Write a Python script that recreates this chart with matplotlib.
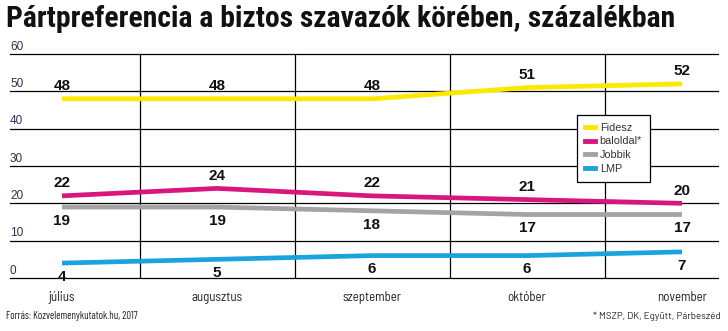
"""
Pártpreferencia a biztos szavazók körében - line chart recreation
"""

import matplotlib.pyplot as plt
from matplotlib.lines import Line2D

months = ['július', 'augusztus', 'szeptember', 'október', 'november']
fidesz = [48, 48, 48, 51, 52]
baloldal = [22, 24, 22, 21, 20]
jobbik = [19, 19, 18, 17, 17]
lmp = [4, 5, 6, 6, 7]
y_ticks = [0, 10, 20, 30, 40, 50, 60]

COLORS = {
    'fidesz': '#FFE800',
    'baloldal': '#D8177E',
    'jobbik': '#A3A3A3',
    'lmp': '#1AA3DC',
    'text': '#222222',
}
TITLE_FONT = ['Roboto Condensed', 'DejaVu Sans']
SMALL_FONT = ['Barlow Semi Condensed', 'DejaVu Sans']
FOOT_FONT = ['Barlow Condensed', 'DejaVu Sans']
NOTE_FONT = ['Barlow', 'DejaVu Sans']
LABEL_FONT = ['Liberation Sans', 'DejaVu Sans']

W, H = 728, 331
fig = plt.figure(figsize=(W / 100, H / 100), dpi=100, facecolor='white')

# plot area in pixels: x 10..718, y 54 (=60) .. 278 (=0)
ax = fig.add_axes([10 / W, (H - 278) / H, 708 / W, (278 - 54) / H])
x0 = (10 - 62) / 155
x1 = (718 - 62) / 155
ax.set_xlim(x0, x1)
ax.set_ylim(0, 60)
ax.axis('off')

# grid
for v in y_ticks:
    ax.axhline(v, color='black', lw=0.9, zorder=1, clip_on=False)
    ax.annotate(str(v), (x0, v), xytext=(0, 1), textcoords='offset points',
                ha='left', va='bottom', fontsize=8.5, color='#2b3050',
                family=LABEL_FONT)
for i in range(len(months) - 1):
    ax.plot([i + 0.5, i + 0.5], [0, 60], color='black', lw=0.9, zorder=1)

xs = list(range(len(months)))
series = [
    ('Fidesz', fidesz, COLORS['fidesz'], 9),
    ('baloldal*', baloldal, COLORS['baloldal'], 9),
    ('Jobbik', jobbik, COLORS['jobbik'], -10),
    ('LMP', lmp, COLORS['lmp'], -10),
]
for name, vals, col, off in series:
    ax.plot(xs, vals, color=col, lw=3.4, solid_capstyle='butt', zorder=3)
    for x, v in zip(xs, vals):
        ax.annotate(str(v), (x, v), xytext=(0, off), textcoords='offset points',
                    ha='center', va='center', fontsize=11, fontweight='bold',
                    color='#111111', family=LABEL_FONT, zorder=4)

# month labels
for x, m in zip(xs, months):
    ax.annotate(m, (x, 0), xytext=(0, -14), textcoords='offset points',
                ha='center', va='center', fontsize=9.3, color=COLORS['text'],
                family=SMALL_FONT)

# legend
handles = [Line2D([0], [0], color=c, lw=3.5) for _, _, c, _ in series]
labels = ['Fidesz', 'baloldal*', 'Jobbik', 'LMP']
leg = fig.legend(handles, labels, loc='upper left',
                 bbox_to_anchor=(577 / W, 1 - 115 / H), frameon=True,
                 fancybox=False, edgecolor='black', framealpha=1,
                 handlelength=1.0, handletextpad=0.4, labelspacing=0.35,
                 borderpad=0.7, borderaxespad=0,
                 prop={'family': LABEL_FONT, 'size': 7.8})
leg.get_frame().set_linewidth(0.9)
for t in leg.get_texts():
    t.set_color('#333333')

# title and footer
fig.text(6 / W, 1 - 19 / H, 'Pártpreferencia a biztos szavazók körében, százalékban',
         ha='left', va='center', fontsize=21.3, fontweight='bold', color='#111111',
         family=TITLE_FONT)
fig.text(6 / W, 1 - 316 / H, 'Forrás: Kozvelemenykutatok.hu, 2017',
         ha='left', va='center', fontsize=7.6, color=COLORS['text'], family=FOOT_FONT)
fig.text(721 / W, 1 - 316 / H, '* MSZP, DK, Együtt, Párbeszéd',
         ha='right', va='center', fontsize=7, color=COLORS['text'], family=NOTE_FONT)

plt.savefig('out.png', dpi=100, facecolor='white')
plt.close()
